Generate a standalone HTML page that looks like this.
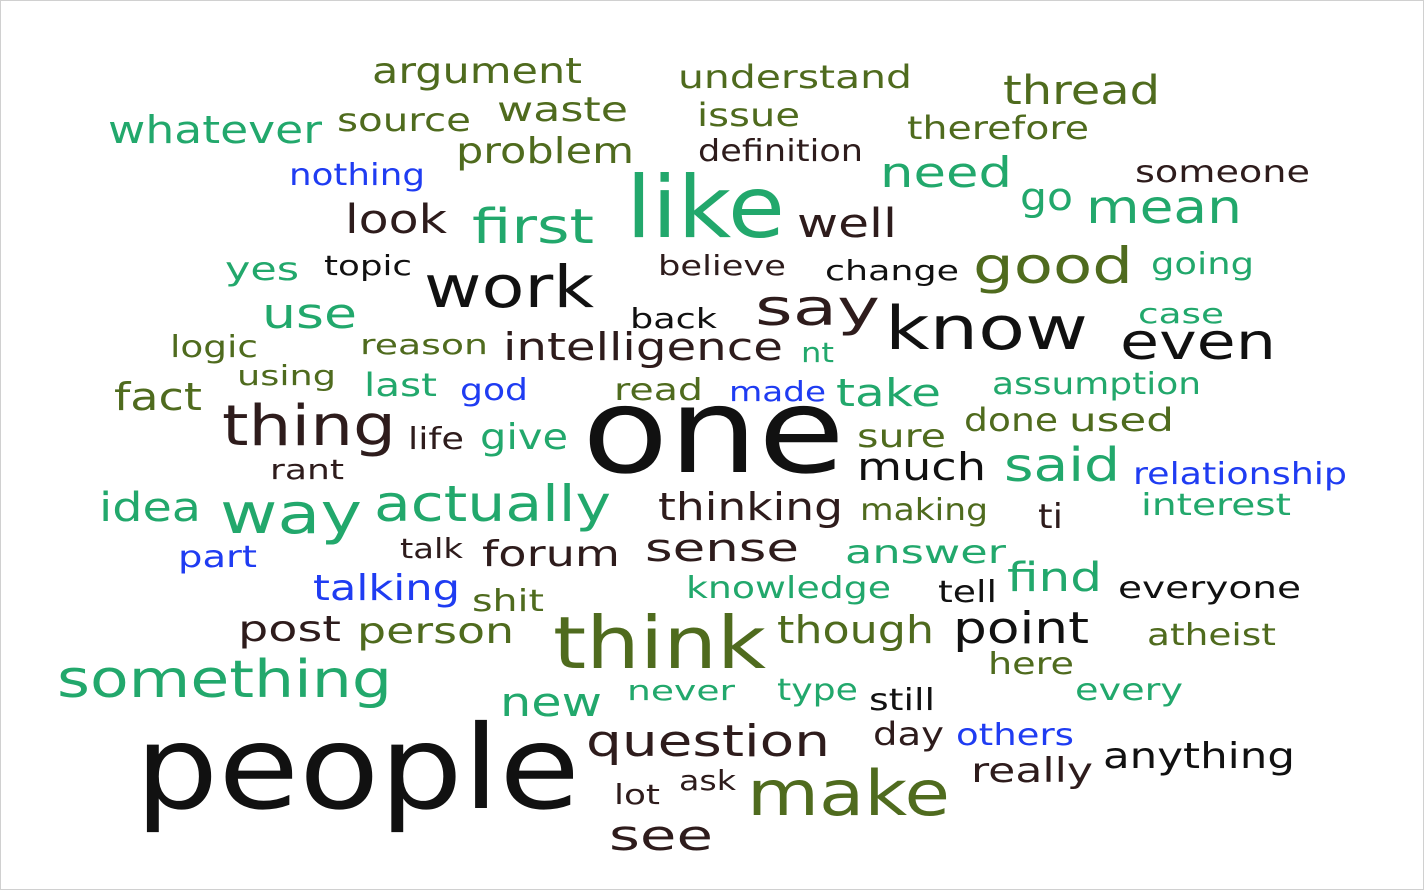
<!DOCTYPE html>
<html><head><meta charset="utf-8"><style>
html,body{margin:0;padding:0;background:#fff;}
svg{display:block;}
text{font-family:"DejaVu Sans","Liberation Sans",sans-serif;}
.g{fill:#22a86c}.o{fill:#4f6b1e}.d{fill:#2e1c1c}.k{fill:#111}.b{fill:#1f3cf2}
</style></head><body>
<svg width="1424" height="890" viewBox="0 0 1424 890" xmlns="http://www.w3.org/2000/svg">
<rect x="0.5" y="0.5" width="1423" height="889" fill="#fff" stroke="#d0d0d0"/>
<g lengthAdjust="spacingAndGlyphs">
<text class="o" x="372" y="83" font-size="36" textLength="210" lengthAdjust="spacingAndGlyphs">argument</text>
<text class="o" x="678" y="88" font-size="32" textLength="234" lengthAdjust="spacingAndGlyphs">understand</text>
<text class="o" x="1003" y="104" font-size="40" textLength="157" lengthAdjust="spacingAndGlyphs">thread</text>
<text class="g" x="108" y="143" font-size="38" textLength="214" lengthAdjust="spacingAndGlyphs">whatever</text>
<text class="o" x="337" y="131" font-size="32" textLength="134" lengthAdjust="spacingAndGlyphs">source</text>
<text class="o" x="497" y="121" font-size="34" textLength="131" lengthAdjust="spacingAndGlyphs">waste</text>
<text class="o" x="697" y="126" font-size="32" textLength="103" lengthAdjust="spacingAndGlyphs">issue</text>
<text class="o" x="907" y="139" font-size="32" textLength="182" lengthAdjust="spacingAndGlyphs">therefore</text>
<text class="o" x="456" y="163" font-size="36" textLength="178" lengthAdjust="spacingAndGlyphs">problem</text>
<text class="d" x="698" y="161" font-size="30" textLength="165" lengthAdjust="spacingAndGlyphs">definition</text>
<text class="b" x="289" y="185" font-size="30" textLength="136" lengthAdjust="spacingAndGlyphs">nothing</text>
<text class="g" x="880" y="187" font-size="42" textLength="132" lengthAdjust="spacingAndGlyphs">need</text>
<text class="d" x="1135" y="182" font-size="30" textLength="175" lengthAdjust="spacingAndGlyphs">someone</text>
<text class="g" x="626" y="237" font-size="86" textLength="159" lengthAdjust="spacingAndGlyphs">like</text>
<text class="d" x="345" y="233" font-size="40" textLength="102" lengthAdjust="spacingAndGlyphs">look</text>
<text class="g" x="472" y="243" font-size="48" textLength="122" lengthAdjust="spacingAndGlyphs">first</text>
<text class="d" x="797" y="237" font-size="40" textLength="100" lengthAdjust="spacingAndGlyphs">well</text>
<text class="g" x="1020" y="210" font-size="38" textLength="53" lengthAdjust="spacingAndGlyphs">go</text>
<text class="g" x="1086" y="223" font-size="46" textLength="156" lengthAdjust="spacingAndGlyphs">mean</text>
<text class="g" x="225" y="280" font-size="32" textLength="74" lengthAdjust="spacingAndGlyphs">yes</text>
<text class="k" x="324" y="275" font-size="28" textLength="88" lengthAdjust="spacingAndGlyphs">topic</text>
<text class="k" x="424" y="307" font-size="58" textLength="170" lengthAdjust="spacingAndGlyphs">work</text>
<text class="d" x="658" y="275" font-size="28" textLength="128" lengthAdjust="spacingAndGlyphs">believe</text>
<text class="k" x="825" y="280" font-size="28" textLength="134" lengthAdjust="spacingAndGlyphs">change</text>
<text class="o" x="973" y="283" font-size="50" textLength="160" lengthAdjust="spacingAndGlyphs">good</text>
<text class="g" x="1151" y="274" font-size="30" textLength="103" lengthAdjust="spacingAndGlyphs">going</text>
<text class="g" x="262" y="328" font-size="42" textLength="95" lengthAdjust="spacingAndGlyphs">use</text>
<text class="d" x="755" y="325" font-size="50" textLength="125" lengthAdjust="spacingAndGlyphs">say</text>
<text class="k" x="885" y="349" font-size="60" textLength="203" lengthAdjust="spacingAndGlyphs">know</text>
<text class="k" x="630" y="328" font-size="28" textLength="87" lengthAdjust="spacingAndGlyphs">back</text>
<text class="g" x="1138" y="323" font-size="28" textLength="86" lengthAdjust="spacingAndGlyphs">case</text>
<text class="o" x="170" y="357" font-size="30" textLength="88" lengthAdjust="spacingAndGlyphs">logic</text>
<text class="o" x="360" y="354" font-size="28" textLength="128" lengthAdjust="spacingAndGlyphs">reason</text>
<text class="d" x="503" y="360" font-size="38" textLength="280" lengthAdjust="spacingAndGlyphs">intelligence</text>
<text class="g" x="801" y="362" font-size="28" textLength="33" lengthAdjust="spacingAndGlyphs">nt</text>
<text class="k" x="1120" y="359" font-size="50" textLength="156" lengthAdjust="spacingAndGlyphs">even</text>
<text class="o" x="237" y="385" font-size="28" textLength="99" lengthAdjust="spacingAndGlyphs">using</text>
<text class="g" x="364" y="396" font-size="32" textLength="73" lengthAdjust="spacingAndGlyphs">last</text>
<text class="b" x="460" y="400" font-size="30" textLength="68" lengthAdjust="spacingAndGlyphs">god</text>
<text class="o" x="614" y="400" font-size="30" textLength="89" lengthAdjust="spacingAndGlyphs">read</text>
<text class="b" x="729" y="401" font-size="28" textLength="97" lengthAdjust="spacingAndGlyphs">made</text>
<text class="g" x="836" y="406" font-size="38" textLength="105" lengthAdjust="spacingAndGlyphs">take</text>
<text class="g" x="992" y="394" font-size="30" textLength="209" lengthAdjust="spacingAndGlyphs">assumption</text>
<text class="o" x="114" y="410" font-size="38" textLength="88" lengthAdjust="spacingAndGlyphs">fact</text>
<text class="d" x="222" y="445" font-size="56" textLength="174" lengthAdjust="spacingAndGlyphs">thing</text>
<text class="d" x="408" y="449" font-size="30" textLength="56" lengthAdjust="spacingAndGlyphs">life</text>
<text class="g" x="480" y="449" font-size="36" textLength="88" lengthAdjust="spacingAndGlyphs">give</text>
<text class="k" x="582" y="472" font-size="118" textLength="263" lengthAdjust="spacingAndGlyphs">one</text>
<text class="o" x="857" y="447" font-size="32" textLength="89" lengthAdjust="spacingAndGlyphs">sure</text>
<text class="o" x="964" y="431" font-size="32" textLength="94" lengthAdjust="spacingAndGlyphs">done</text>
<text class="o" x="1069" y="431" font-size="32" textLength="105" lengthAdjust="spacingAndGlyphs">used</text>
<text class="k" x="857" y="480" font-size="38" textLength="129" lengthAdjust="spacingAndGlyphs">much</text>
<text class="g" x="1004" y="481" font-size="46" textLength="116" lengthAdjust="spacingAndGlyphs">said</text>
<text class="b" x="1133" y="484" font-size="30" textLength="214" lengthAdjust="spacingAndGlyphs">relationship</text>
<text class="d" x="270" y="479" font-size="28" textLength="74" lengthAdjust="spacingAndGlyphs">rant</text>
<text class="g" x="99" y="521" font-size="40" textLength="102" lengthAdjust="spacingAndGlyphs">idea</text>
<text class="g" x="220" y="533" font-size="56" textLength="142" lengthAdjust="spacingAndGlyphs">way</text>
<text class="g" x="374" y="521" font-size="50" textLength="237" lengthAdjust="spacingAndGlyphs">actually</text>
<text class="d" x="658" y="520" font-size="38" textLength="185" lengthAdjust="spacingAndGlyphs">thinking</text>
<text class="o" x="860" y="520" font-size="30" textLength="128" lengthAdjust="spacingAndGlyphs">making</text>
<text class="d" x="1038" y="528" font-size="34" textLength="25" lengthAdjust="spacingAndGlyphs">ti</text>
<text class="g" x="1141" y="515" font-size="30" textLength="150" lengthAdjust="spacingAndGlyphs">interest</text>
<text class="b" x="178" y="567" font-size="30" textLength="79" lengthAdjust="spacingAndGlyphs">part</text>
<text class="d" x="400" y="558" font-size="28" textLength="63" lengthAdjust="spacingAndGlyphs">talk</text>
<text class="d" x="482" y="566" font-size="36" textLength="138" lengthAdjust="spacingAndGlyphs">forum</text>
<text class="d" x="645" y="561" font-size="38" textLength="154" lengthAdjust="spacingAndGlyphs">sense</text>
<text class="g" x="845" y="563" font-size="32" textLength="161" lengthAdjust="spacingAndGlyphs">answer</text>
<text class="g" x="1007" y="591" font-size="40" textLength="95" lengthAdjust="spacingAndGlyphs">find</text>
<text class="b" x="313" y="600" font-size="36" textLength="147" lengthAdjust="spacingAndGlyphs">talking</text>
<text class="o" x="472" y="611" font-size="30" textLength="72" lengthAdjust="spacingAndGlyphs">shit</text>
<text class="g" x="686" y="598" font-size="30" textLength="205" lengthAdjust="spacingAndGlyphs">knowledge</text>
<text class="k" x="938" y="602" font-size="30" textLength="59" lengthAdjust="spacingAndGlyphs">tell</text>
<text class="k" x="1118" y="598" font-size="30" textLength="183" lengthAdjust="spacingAndGlyphs">everyone</text>
<text class="d" x="238" y="641" font-size="36" textLength="103" lengthAdjust="spacingAndGlyphs">post</text>
<text class="o" x="357" y="643" font-size="36" textLength="157" lengthAdjust="spacingAndGlyphs">person</text>
<text class="o" x="553" y="668" font-size="72" textLength="213" lengthAdjust="spacingAndGlyphs">think</text>
<text class="o" x="777" y="643" font-size="38" textLength="157" lengthAdjust="spacingAndGlyphs">though</text>
<text class="k" x="953" y="643" font-size="44" textLength="136" lengthAdjust="spacingAndGlyphs">point</text>
<text class="o" x="1147" y="645" font-size="30" textLength="129" lengthAdjust="spacingAndGlyphs">atheist</text>
<text class="o" x="988" y="674" font-size="30" textLength="86" lengthAdjust="spacingAndGlyphs">here</text>
<text class="g" x="57" y="697" font-size="52" textLength="335" lengthAdjust="spacingAndGlyphs">something</text>
<text class="g" x="500" y="716" font-size="40" textLength="102" lengthAdjust="spacingAndGlyphs">new</text>
<text class="g" x="627" y="700" font-size="28" textLength="108" lengthAdjust="spacingAndGlyphs">never</text>
<text class="g" x="777" y="700" font-size="30" textLength="81" lengthAdjust="spacingAndGlyphs">type</text>
<text class="k" x="869" y="710" font-size="30" textLength="66" lengthAdjust="spacingAndGlyphs">still</text>
<text class="g" x="1075" y="700" font-size="30" textLength="108" lengthAdjust="spacingAndGlyphs">every</text>
<text class="k" x="135" y="808" font-size="116" textLength="445" lengthAdjust="spacingAndGlyphs">people</text>
<text class="d" x="586" y="756" font-size="44" textLength="244" lengthAdjust="spacingAndGlyphs">question</text>
<text class="d" x="873" y="745" font-size="32" textLength="71" lengthAdjust="spacingAndGlyphs">day</text>
<text class="b" x="956" y="745" font-size="30" textLength="118" lengthAdjust="spacingAndGlyphs">others</text>
<text class="k" x="1103" y="768" font-size="36" textLength="192" lengthAdjust="spacingAndGlyphs">anything</text>
<text class="d" x="971" y="782" font-size="34" textLength="122" lengthAdjust="spacingAndGlyphs">really</text>
<text class="o" x="747" y="815" font-size="62" textLength="203" lengthAdjust="spacingAndGlyphs">make</text>
<text class="d" x="679" y="790" font-size="28" textLength="57" lengthAdjust="spacingAndGlyphs">ask</text>
<text class="d" x="614" y="804" font-size="28" textLength="46" lengthAdjust="spacingAndGlyphs">lot</text>
<text class="d" x="609" y="850" font-size="42" textLength="104" lengthAdjust="spacingAndGlyphs">see</text>
</g>
</svg>
</body></html>
